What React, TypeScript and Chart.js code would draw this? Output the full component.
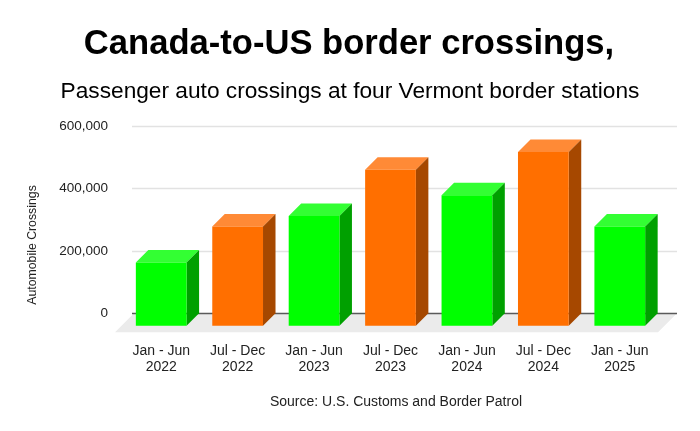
import React, { useEffect, useRef } from "react";
import { Chart, registerables } from "chart.js";

Chart.register(...registerables);

const categories: string[][] = [
  ["Jan - Jun", "2022"],
  ["Jul - Dec", "2022"],
  ["Jan - Jun", "2023"],
  ["Jul - Dec", "2023"],
  ["Jan - Jun", "2024"],
  ["Jul - Dec", "2024"],
  ["Jan - Jun", "2025"],
];
const crossings: number[] = [203000, 318000, 352000, 500000, 418000, 557000, 318000];
const yTicks: number[] = [0, 200000, 400000, 600000];

const titleText = "Canada-to-US border crossings,";
const subtitleText = "Passenger auto crossings at four Vermont border stations";
const sourceText = "Source: U.S. Customs and Border Patrol";
const yAxisTitle = "Automobile Crossings";

const FONT = '"Liberation Sans", Arial, Helvetica, sans-serif';
const DEPTH = 12.5;
const FLOOR = 19;

const palette = {
  green: { front: "#00ff00", top: "#33ff33", side: "#00a000" },
  orange: { front: "#ff6f00", top: "#ff8a36", side: "#a64800" },
};
const colorsFor = (i: number) =>
  categories[i][0].startsWith("Jan") ? palette.green : palette.orange;

const threeD = {
  id: "threeD",
  beforeDatasetsDraw(chart: any) {
    const { ctx, chartArea: a, scales } = chart;
    const ys = scales.y;
    const zero = ys.getPixelForValue(0);
    ctx.save();
    // floor
    ctx.fillStyle = "#ebebeb";
    ctx.beginPath();
    ctx.moveTo(a.left - 8, zero + FLOOR);
    ctx.lineTo(a.right, zero + FLOOR);
    ctx.lineTo(a.right + FLOOR, zero);
    ctx.lineTo(a.left - 8 + FLOOR, zero);
    ctx.closePath();
    ctx.fill();
    // back wall gridlines
    for (const t of yTicks) {
      const py = Math.round(ys.getPixelForValue(t)) + 0.5;
      ctx.strokeStyle = t === 0 ? "#5a5a5a" : "#e2e2e2";
      ctx.lineWidth = 1.5;
      ctx.beginPath();
      ctx.moveTo(a.left - 10 + FLOOR, py);
      ctx.lineTo(a.right + FLOOR, py);
      ctx.stroke();
    }
    // top and side faces
    const meta = chart.getDatasetMeta(0);
    meta.data.forEach((bar: any, i: number) => {
      const { x, y, base, width } = bar.getProps(["x", "y", "base", "width"], true);
      const L = x - width / 2;
      const R = x + width / 2;
      const c = colorsFor(i);
      ctx.fillStyle = c.top;
      ctx.beginPath();
      ctx.moveTo(L, y + DEPTH);
      ctx.lineTo(L + DEPTH, y);
      ctx.lineTo(R + DEPTH, y);
      ctx.lineTo(R, y + DEPTH);
      ctx.closePath();
      ctx.fill();
      ctx.fillStyle = c.side;
      ctx.beginPath();
      ctx.moveTo(R, y + DEPTH);
      ctx.lineTo(R + DEPTH, y);
      ctx.lineTo(R + DEPTH, base);
      ctx.lineTo(R, base + DEPTH);
      ctx.closePath();
      ctx.fill();
    });
    ctx.restore();
    ctx.save();
    ctx.translate(0, DEPTH);
  },
  afterDatasetsDraw(chart: any) {
    chart.ctx.restore();
  },
  afterDraw(chart: any) {
    const { ctx, width } = chart;
    ctx.save();
    ctx.fillStyle = "#000";
    ctx.textAlign = "center";
    ctx.textBaseline = "alphabetic";
    ctx.font = `bold 34.6px ${FONT}`;
    ctx.fillText(titleText, width / 2 - 1, 45.5);
    ctx.font = `22.7px ${FONT}`;
    ctx.fillText(subtitleText, width / 2, 89.5);
    ctx.fillStyle = "#222";
    ctx.font = `14px ${FONT}`;
    ctx.fillText(sourceText, 388, 397.7);
    ctx.translate(25, 237);
    ctx.rotate(-Math.PI / 2);
    ctx.font = `12.3px ${FONT}`;
    ctx.textBaseline = "middle";
    ctx.fillText(yAxisTitle, 0, 0);
    ctx.restore();
  },
};

export default function App() {
  const ref = useRef<HTMLCanvasElement>(null);
  useEffect(() => {
    if (!ref.current) return;
    const chart = new Chart(ref.current, {
      type: "bar",
      data: {
        labels: categories,
        datasets: [
          {
            data: crossings,
            backgroundColor: crossings.map((_, i) => colorsFor(i).front),
            borderWidth: 0,
            categoryPercentage: 1,
            barPercentage: 0.664,
            clip: false as any,
          },
        ],
      },
      options: {
        responsive: false,
        animation: false,
        layout: { padding: { top: 118, left: 0, right: 34, bottom: 39.7 } },
        plugins: {
          legend: { display: false },
          tooltip: { enabled: false },
          title: { display: false },
        },
        scales: {
          x: {
            grid: { display: false, drawTicks: false },
            border: { display: false },
            ticks: {
              color: "#222",
              padding: 29.6,
              font: { family: FONT, size: 14, lineHeight: 16 / 14 },
              maxRotation: 0,
              autoSkip: false,
            },
            afterFit: (s: any) => {
              s.height = 70;
            },
          },
          y: {
            min: 0,
            max: 600000,
            grid: { display: false, drawTicks: false },
            border: { display: false },
            ticks: {
              stepSize: 200000,
              color: "#222",
              padding: 15,
              font: { family: FONT, size: 13.5 },
              callback: (v: any) => Number(v).toLocaleString("en-US"),
            },
            afterFit: (s: any) => {
              s.width = 115;
            },
          },
        },
      },
      plugins: [threeD],
    });
    return () => chart.destroy();
  }, []);
  return <canvas ref={ref} width={684} height={415} />;
}
